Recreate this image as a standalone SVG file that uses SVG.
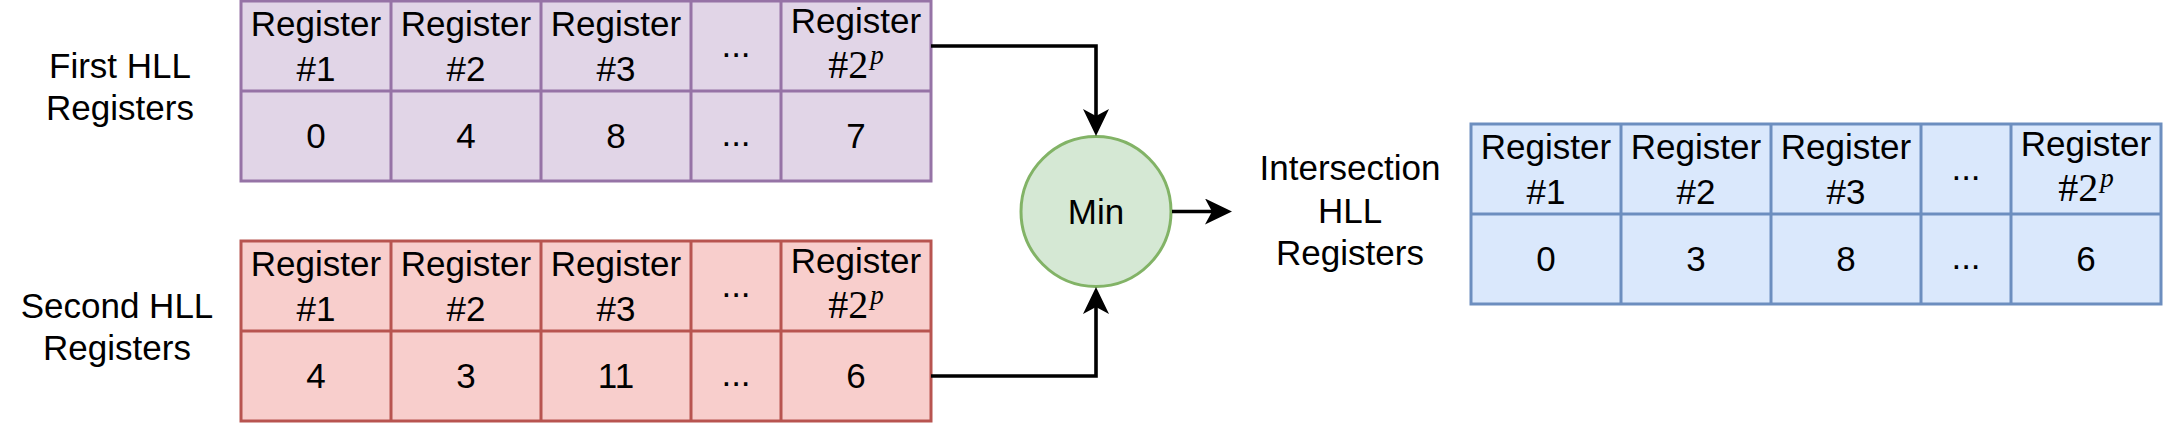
<svg xmlns="http://www.w3.org/2000/svg" width="2166" height="423" viewBox="0 0 2166 423">
  <style>
    .t { font-family: "Liberation Sans", Arial, Helvetica, sans-serif; font-size: 35px; fill: #000; text-anchor: middle; }
    .m { font-family: "Liberation Serif", "Times New Roman", serif; fill: #000; text-anchor: middle; }
    .m2 { font-size: 40px; }
    .mp { font-size: 27px; font-style: italic; }
    .purple { fill: #e1d5e7; stroke: #9673a6; stroke-width: 3; }
    .red { fill: #f8cecc; stroke: #b85450; stroke-width: 3; }
    .blue { fill: #dae8fc; stroke: #6c8ebf; stroke-width: 3; }
    .lp { stroke: #9673a6; stroke-width: 3; fill: none; }
    .lr { stroke: #b85450; stroke-width: 3; fill: none; }
    .lb { stroke: #6c8ebf; stroke-width: 3; fill: none; }
    .conn { stroke: #000; stroke-width: 3.6; fill: none; marker-end: url(#arrow); }
  </style>
  <defs>
    <marker id="arrow" markerUnits="userSpaceOnUse" viewBox="0 0 27 26" refX="7" refY="13" markerWidth="27" markerHeight="26" orient="auto">
      <path d="M0,0 L27,13 L0,26 L7,13 Z" fill="#000"/>
    </marker>
  </defs>

  <!-- Labels -->
  <g id="label-first">
    <text class="t" x="120" y="78">First HLL</text>
    <text class="t" x="120" y="120">Registers</text>
  </g>
  <g id="label-second">
    <text class="t" x="117" y="318">Second HLL</text>
    <text class="t" x="117" y="360">Registers</text>
  </g>
  <g id="label-intersection">
    <text class="t" x="1350" y="180">Intersection</text>
    <text class="t" x="1350" y="222.5">HLL</text>
    <text class="t" x="1350" y="265">Registers</text>
  </g>

  <!-- First HLL table -->
  <g id="table-first">
    <rect class="purple" x="241" y="1" width="690" height="180"/>
    <path class="lp" d="M241 91 H931 M391 1 V181 M541 1 V181 M691 1 V181 M781 1 V181"/>
    <text class="t" x="316" y="36">Register</text><text class="t" x="316" y="81">#1</text>
    <text class="t" x="466" y="36">Register</text><text class="t" x="466" y="81">#2</text>
    <text class="t" x="616" y="36">Register</text><text class="t" x="616" y="81">#3</text>
    <text class="t" x="736" y="57">...</text>
    <text class="t" x="856" y="33">Register</text>
    <text class="m" x="856" y="78"><tspan class="m2">#2</tspan><tspan class="mp" dx="2" dy="-14">p</tspan></text>
    <text class="t" x="316" y="148">0</text>
    <text class="t" x="466" y="148">4</text>
    <text class="t" x="616" y="148">8</text>
    <text class="t" x="736" y="146">...</text>
    <text class="t" x="856" y="148">7</text>
  </g>

  <!-- Second HLL table -->
  <g id="table-second">
    <rect class="red" x="241" y="241" width="690" height="180"/>
    <path class="lr" d="M241 331 H931 M391 241 V421 M541 241 V421 M691 241 V421 M781 241 V421"/>
    <text class="t" x="316" y="276">Register</text><text class="t" x="316" y="321">#1</text>
    <text class="t" x="466" y="276">Register</text><text class="t" x="466" y="321">#2</text>
    <text class="t" x="616" y="276">Register</text><text class="t" x="616" y="321">#3</text>
    <text class="t" x="736" y="297">...</text>
    <text class="t" x="856" y="273">Register</text>
    <text class="m" x="856" y="318"><tspan class="m2">#2</tspan><tspan class="mp" dx="2" dy="-14">p</tspan></text>
    <text class="t" x="316" y="388">4</text>
    <text class="t" x="466" y="388">3</text>
    <text class="t" x="616" y="388">11</text>
    <text class="t" x="736" y="386">...</text>
    <text class="t" x="856" y="388">6</text>
  </g>

  <!-- Min node -->
  <g id="min">
    <circle cx="1096" cy="211.5" r="75" fill="#d5e8d4" stroke="#82b366" stroke-width="3"/>
    <text class="t" x="1096" y="224">Min</text>
  </g>

  <!-- Intersection table -->
  <g id="table-intersection">
    <rect class="blue" x="1471" y="124" width="690" height="180"/>
    <path class="lb" d="M1471 214 H2161 M1621 124 V304 M1771 124 V304 M1921 124 V304 M2011 124 V304"/>
    <text class="t" x="1546" y="159">Register</text><text class="t" x="1546" y="204">#1</text>
    <text class="t" x="1696" y="159">Register</text><text class="t" x="1696" y="204">#2</text>
    <text class="t" x="1846" y="159">Register</text><text class="t" x="1846" y="204">#3</text>
    <text class="t" x="1966" y="180">...</text>
    <text class="t" x="2086" y="156">Register</text>
    <text class="m" x="2086" y="201"><tspan class="m2">#2</tspan><tspan class="mp" dx="2" dy="-14">p</tspan></text>
    <text class="t" x="1546" y="271">0</text>
    <text class="t" x="1696" y="271">3</text>
    <text class="t" x="1846" y="271">8</text>
    <text class="t" x="1966" y="269">...</text>
    <text class="t" x="2086" y="271">6</text>
  </g>

  <!-- Connectors -->
  <g id="connectors">
    <path class="conn" d="M931 46 H1096 V116"/>
    <path class="conn" d="M931 376 H1096 V307"/>
    <path class="conn" d="M1172 211.5 H1212"/>
  </g>
</svg>
